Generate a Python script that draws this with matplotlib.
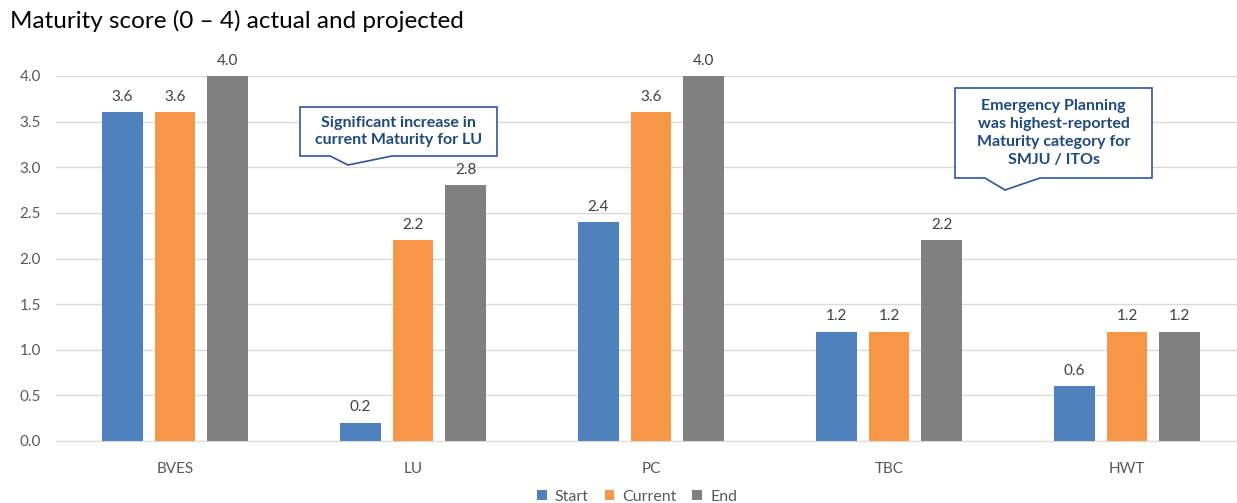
import matplotlib
matplotlib.use("Agg")
import matplotlib.pyplot as plt
import numpy as np
from matplotlib.patches import Polygon

categories = ["BVES", "LU", "PC", "TBC", "HWT"]
series_names = ["Start", "Current", "End"]
start = [3.6, 0.2, 2.4, 1.2, 0.6]
current = [3.6, 2.2, 3.6, 1.2, 1.2]
end = [4.0, 2.8, 4.0, 2.2, 1.2]
yticks = [0.0, 0.5, 1.0, 1.5, 2.0, 2.5, 3.0, 3.5, 4.0]
colors = ["#4F81BD", "#F79646", "#808080"]

W, H = 1237, 503
plt.rcParams['font.family'] = ['Lato', 'DejaVu Sans']
fig = plt.figure(figsize=(W / 100, H / 100), dpi=100)

left_px, right_px = 56, 1237
top_px, bot_px = 76, 441
ax = fig.add_axes([left_px / W, 1 - bot_px / H, (right_px - left_px) / W, (bot_px - top_px) / H])

x = np.arange(len(categories))
bw = 0.17
off = 0.221
for i, (vals, name, c) in enumerate(zip([start, current, end], series_names, colors)):
    pos = x + (i - 1) * off
    bars = ax.bar(pos, vals, width=bw, color=c, label=name, zorder=3)
    for b, v in zip(bars, vals):
        ax.annotate(f"{v:.1f}", (b.get_x() + b.get_width() / 2, v), xytext=(0, 6),
                    textcoords="offset points", ha="center", va="bottom",
                    fontsize=11, color="#404040")

ax.set_xlim(-0.5, -0.5 + (right_px - left_px) / 238)
ax.set_ylim(0, 4.0)
ax.set_yticks(yticks)
ax.set_yticklabels([f"{t:.1f}" for t in yticks], fontsize=11, color="#595959")
ax.set_xticks(x)
ax.set_xticklabels(categories, fontsize=11, color="#595959")
ax.tick_params(axis="both", length=0)
ax.tick_params(axis="y", pad=11)
ax.tick_params(axis="x", pad=15)
ax.grid(axis="y", color="#D9D9D9", linewidth=1, zorder=0)
for s in ["top", "right", "left"]:
    ax.spines[s].set_visible(False)
ax.spines["bottom"].set_color("#D9D9D9")
ax.spines["bottom"].set_zorder(4)
ax.set_axisbelow(True)

fig.text(10 / W, 1 - 21 / H, "Maturity score (0 – 4) actual and projected", fontsize=17.5,
         color="#000000", va="center", ha="left")

leg = fig.legend(loc="center", bbox_to_anchor=(637 / W, 1 - 497 / H), ncol=3, frameon=False,
                 fontsize=11.5, handlelength=0.6, handleheight=0.6, handletextpad=0.5,
                 columnspacing=1.0, labelcolor="#595959")


def px(pts):
    return [(px_x / W, 1 - px_y / H) for px_x, px_y in pts]


def callout(x0, y0, x1, y1, tip, base_l, base_r, text):
    pts = [(x0, y0), (x1, y0), (x1, y1), (base_r, y1), tip, (base_l, y1), (x0, y1)]
    poly = Polygon(px(pts), closed=True, transform=fig.transFigure, facecolor="white",
                   edgecolor="#2F5597", linewidth=1.2, zorder=10)
    fig.add_artist(poly)
    fig.text((x0 + x1) / 2 / W, 1 - (y0 + y1) / 2 / H, text, ha="center", va="center",
             fontsize=11.5, fontweight="bold", color="#1F497D", linespacing=1.35, zorder=11)


callout(300, 107, 497, 156, (348, 165), 330, 392,
        "Significant increase in\ncurrent Maturity for LU")
callout(955, 88, 1152, 178, (1005, 190), 985, 1040,
        "Emergency Planning\nwas highest-reported\nMaturity category for\nSMJU / ITOs")

fig.savefig("out.png", dpi=100)
